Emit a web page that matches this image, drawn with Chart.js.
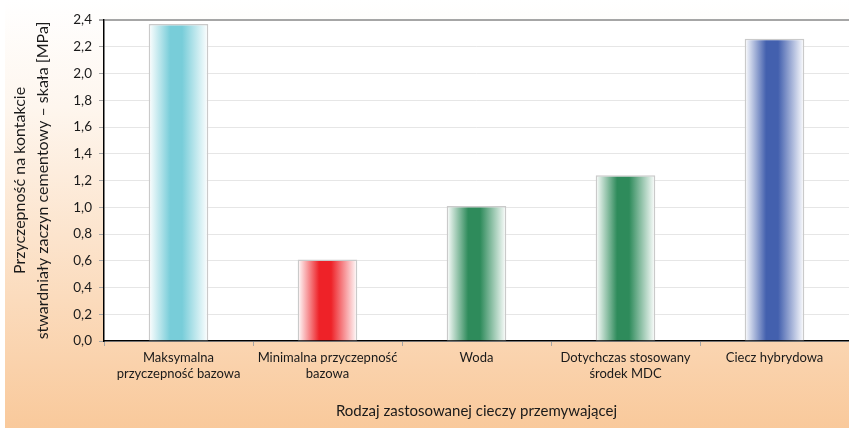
<!DOCTYPE html>
<html>
<head>
<meta charset="utf-8">
<script src="https://cdn.jsdelivr.net/npm/chart.js@4/dist/chart.umd.min.js"></script>
<style>
  html, body { margin: 0; padding: 0; background: #fff; }
  #wrap { width: 849px; height: 428px; position: relative; }
</style>
</head>
<body>
<div id="wrap"><canvas id="c" width="849" height="428"></canvas></div>
<script>
const categories = [
  ['Maksymalna', 'przyczepność bazowa'],
  ['Minimalna przyczepność', 'bazowa'],
  'Woda',
  ['Dotychczas stosowany', 'środek MDC'],
  'Ciecz hybrydowa'
];
const values = [2.37, 0.61, 1.01, 1.24, 2.26];
const barColors = ['#78CDD9', '#EE2228', '#2E8B5B', '#2E8B5B', '#4360AE'];
const yTitle = ['Przyczepność na kontakcie', 'stwardniały zaczyn cementowy – skała [MPa]'];
const xTitle = 'Rodzaj zastosowanej cieczy przemywającej';

const FONT = 'Lato, "Open Sans", sans-serif';
const BAR_PCT = 0.4;

function barGradient(context) {
  const chart = context.chart;
  const xs = chart.scales.x;
  const i = context.dataIndex;
  const color = barColors[i];
  if (!xs || !chart.chartArea) return color;
  const cx = xs.getPixelForValue(i);
  const hw = (xs.width / categories.length) * BAR_PCT / 2;
  const g = chart.ctx.createLinearGradient(cx - hw, 0, cx + hw, 0);
  g.addColorStop(0, '#ffffff');
  g.addColorStop(0.36, color);
  g.addColorStop(0.56, color);
  g.addColorStop(1, '#ffffff');
  return g;
}

const bgPlugin = {
  id: 'bg',
  beforeDraw(chart) {
    const { ctx, width, height, chartArea } = chart;
    ctx.save();
    ctx.fillStyle = '#ffffff';
    ctx.fillRect(0, 0, width, height);
    const g = ctx.createLinearGradient(0, 0, 0, height);
    g.addColorStop(0, '#ffffff');
    g.addColorStop(0.25, '#fef6ee');
    g.addColorStop(1, '#f9c99b');
    ctx.fillStyle = g;
    ctx.fillRect(5, 0, width - 5, height);
    ctx.fillStyle = '#ffffff';
    ctx.fillRect(chartArea.left, chartArea.top, chartArea.right - chartArea.left, chartArea.bottom - chartArea.top);
    ctx.restore();
  }
};

new Chart(document.getElementById('c'), {
  type: 'bar',
  data: {
    labels: categories,
    datasets: [{
      data: values,
      backgroundColor: barGradient,
      borderColor: '#cacaca',
      borderWidth: 1.5,
      categoryPercentage: 1,
      barPercentage: BAR_PCT
    }]
  },
  plugins: [bgPlugin],
  options: {
    responsive: false,
    animation: false,
    devicePixelRatio: 1,
    layout: { padding: { left: 5, top: 20, right: 0, bottom: 0 } },
    plugins: { legend: { display: false }, tooltip: { enabled: false } },
    scales: {
      x: {
        afterFit(s) { s.height = 87; },
        grid: {
          drawOnChartArea: false,
          drawTicks: true,
          tickLength: 5,
          tickColor: '#a6a6a6',
          offset: true
        },
        border: { display: true, color: '#000000', width: 1.5 },
        ticks: {
          color: '#1a1a1a',
          font: { family: FONT, size: 13 },
          padding: 4,
          maxRotation: 0,
          autoSkip: false
        },
        title: {
          display: true,
          text: xTitle,
          color: '#1a1a1a',
          font: { family: FONT, size: 15 },
          padding: { top: 4, bottom: 8 }
        }
      },
      y: {
        min: 0,
        max: 2.4,
        afterFit(s) { s.width = 99; },
        ticks: {
          stepSize: 0.2,
          color: '#1a1a1a',
          font: { family: FONT, size: 13.5 },
          padding: 7,
          callback: v => Number(v).toFixed(1).replace('.', ',')
        },
        grid: {
          color: ctx => (ctx.tick && Math.abs(ctx.tick.value - 2.4) < 1e-6) ? '#a6a6a6' : '#e6e6e6',
          lineWidth: ctx => (ctx.tick && Math.abs(ctx.tick.value - 2.4) < 1e-6) ? 2 : 1,
          tickColor: '#a6a6a6',
          tickLength: 5
        },
        border: { display: true, color: '#000000', width: 1.5 },
        title: {
          display: true,
          text: yTitle,
          color: '#1a1a1a',
          font: { family: FONT, size: 16, lineHeight: 1.44 },
          padding: { top: 3.5, bottom: 0 }
        }
      }
    }
  }
});
</script>
</body>
</html>
